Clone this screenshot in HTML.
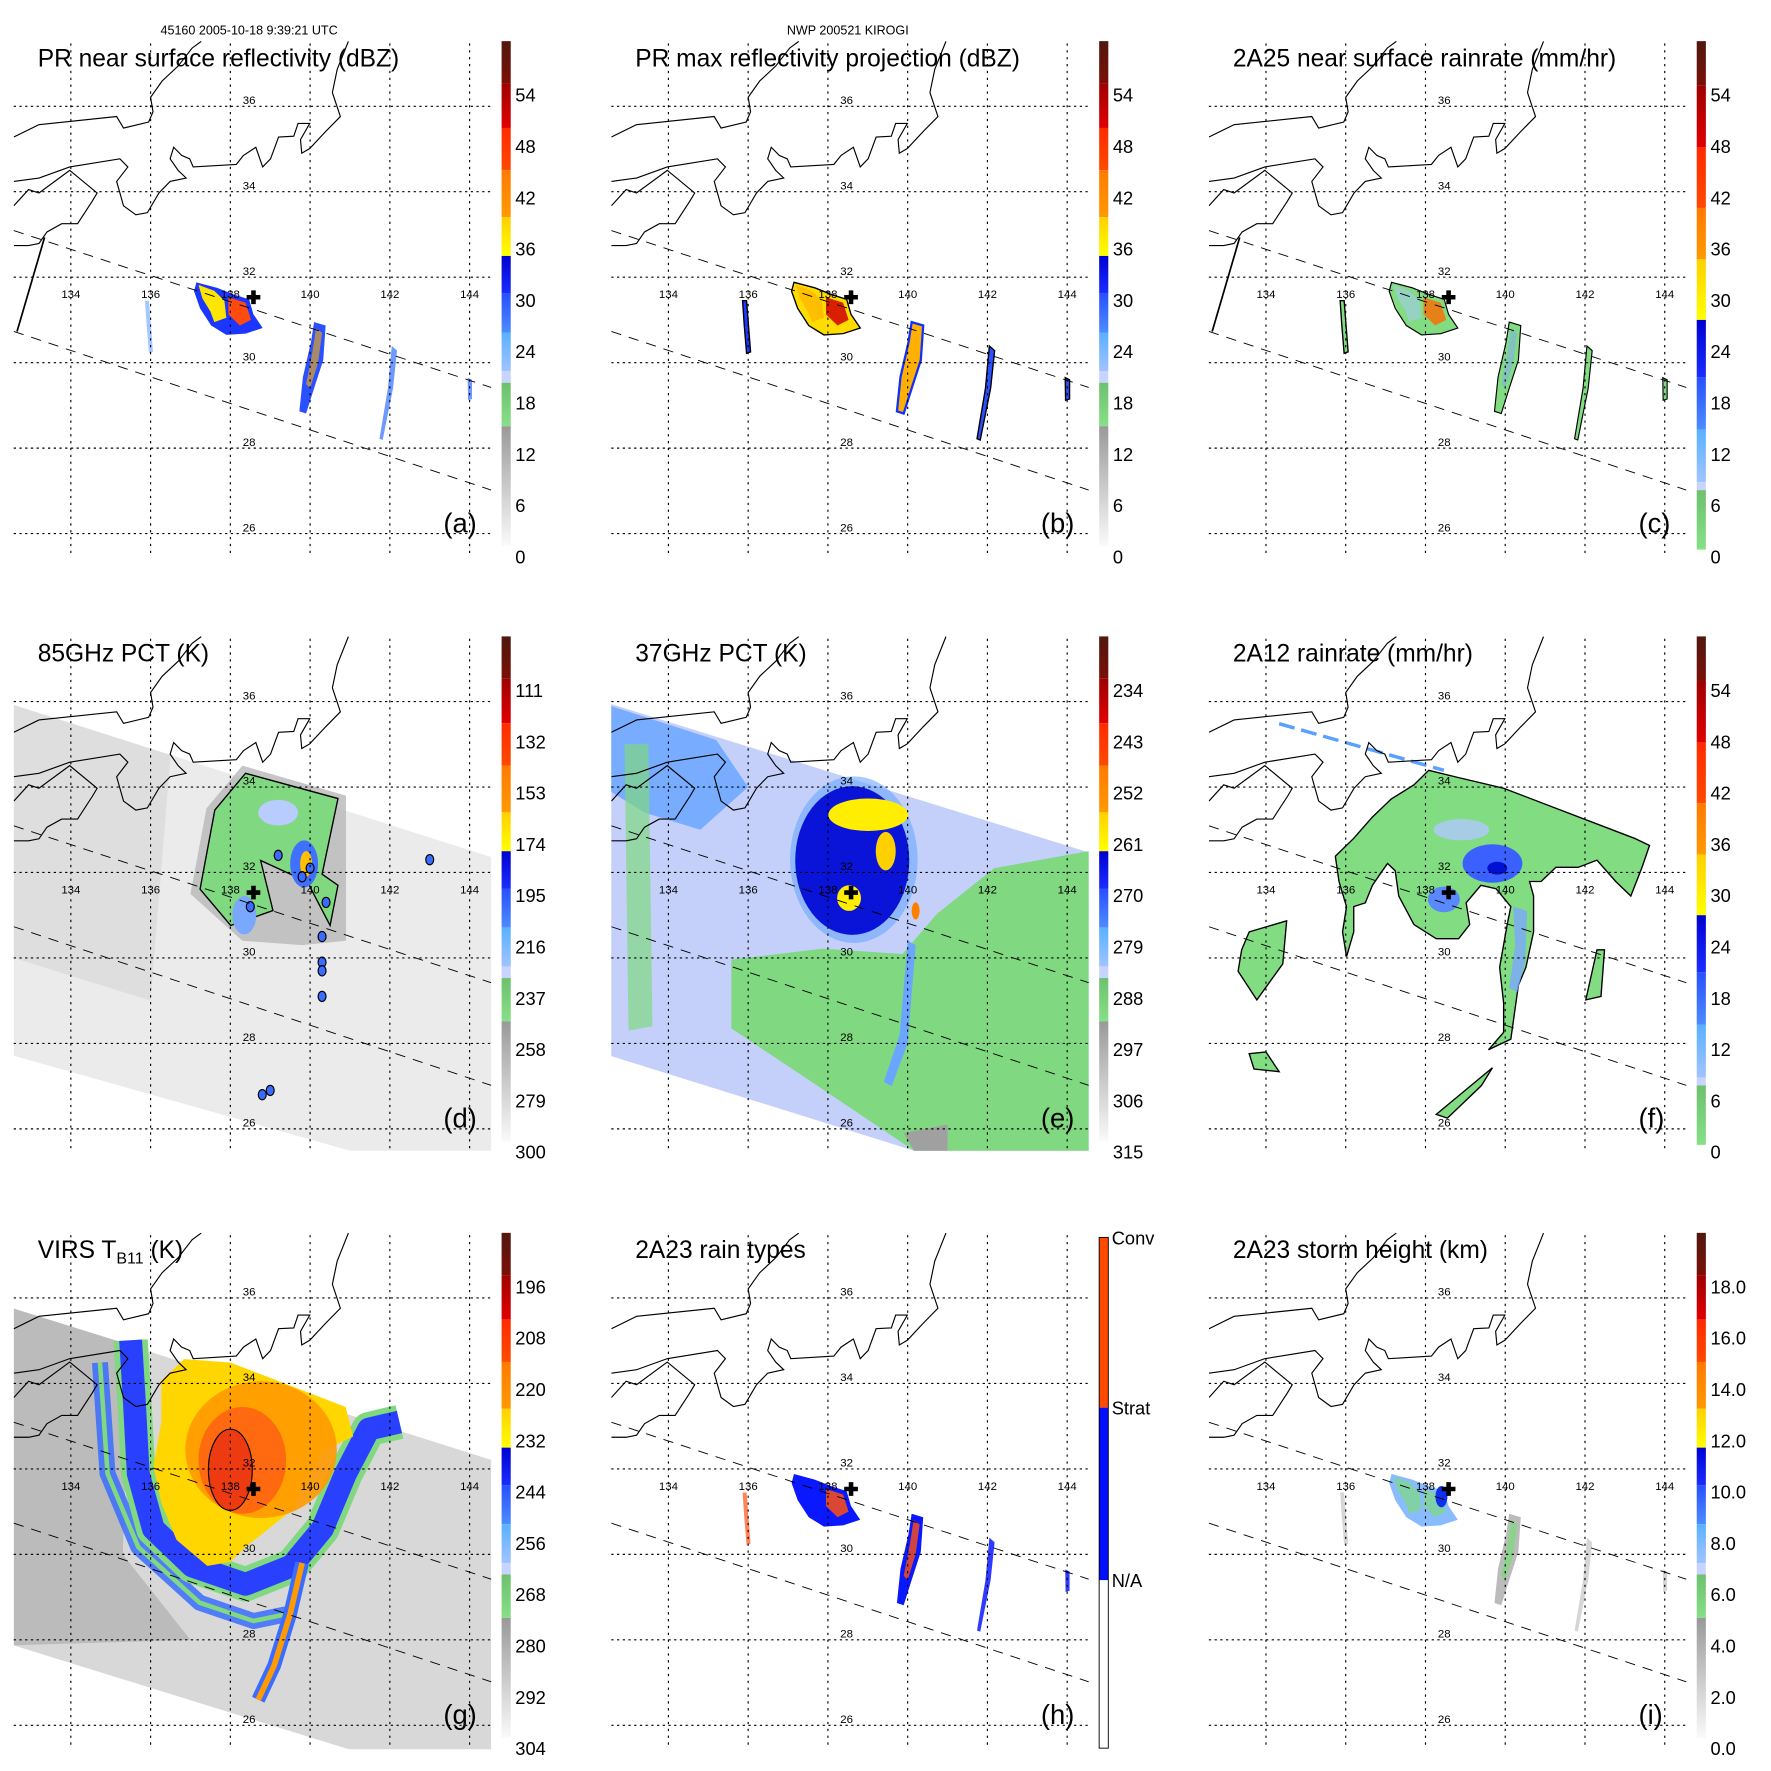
<!DOCTYPE html>
<html><head><meta charset="utf-8"><title>TRMM KIROGI overpass</title>
<style>
html,body{margin:0;padding:0;background:#fff;}
svg{display:block;font-family:"Liberation Sans",Arial,sans-serif;}
</style></head>
<body>
<svg id="fig" xmlns="http://www.w3.org/2000/svg" width="1771" height="1771" viewBox="0 0 1550 1550">
<rect x="0" y="0" width="1550" height="1550" fill="#fff"/>
<text x="218" y="30" font-size="11" text-anchor="middle">45160 2005-10-18 9:39:21 UTC</text>
<text x="742" y="30" font-size="11" text-anchor="middle">NWP 200521 KIROGI</text>
</svg>
<script>
const LON_TICKS=[134,136,138,140,142,144];
const LAT_TICKS=[26,28,30,32,34,36];
const COL_OFF=[0,523,1046];
const ROW_OFF=[0,521,1043];
const CB_LABELS_A=['54','48','42','36','30','24','18','12','6','0'];
const CB_LABELS_C=['54','48','42','36','30','24','18','12','6','0'];
const CB_LABELS_D=['111','132','153','174','195','216','237','258','279','300'];
const CB_LABELS_E=['234','243','252','261','270','279','288','297','306','315'];
const CB_LABELS_G=['196','208','220','232','244','256','268','280','292','304'];
const CB_LABELS_I=['18.0','16.0','14.0','12.0','10.0','8.0','6.0','4.0','2.0','0.0'];
const CB_LABELS_H=['Conv','Strat','N/A'];
const TITLES=['PR near surface reflectivity (dBZ)','PR max reflectivity projection (dBZ)','2A25 near surface rainrate (mm/hr)','85GHz PCT (K)','37GHz PCT (K)','2A12 rainrate (mm/hr)','VIRS','2A23 rain types','2A23 storm height (km)'];
const LETTERS=['(a)','(b)','(c)','(d)','(e)','(f)','(g)','(h)','(i)'];
const STORM_CENTER=[138.58,31.53];

const COAST1=[[132.57,35.28],[133.2,35.57],[135.15,35.76],[135.32,35.49],[135.95,35.63],[136.06,35.87],[136.0,36.21],[136.29,36.59],[136.69,36.94],[137.04,37.36],[137.27,37.52]];
const COAST2=[[140.96,37.52],[140.68,36.86],[140.56,36.32],[140.76,35.76],[140.39,35.41],[139.99,35.01],[139.79,34.90],[139.76,35.22],[139.99,35.60],[139.70,35.60],[139.59,35.30],[139.21,35.28],[139.01,34.77],[138.81,34.58],[138.64,35.04],[138.33,34.85],[138.15,34.64],[137.07,34.58],[136.98,34.77],[136.78,34.85],[136.58,35.04],[136.49,34.77],[136.69,34.50],[136.89,34.32],[136.49,34.24],[136.21,33.97],[135.92,33.51],[135.63,33.46],[135.32,33.67],[135.15,34.24],[135.43,34.58],[135.23,34.77],[133.97,34.58],[133.20,34.32],[132.57,34.24]];
const COAST3=[[132.57,33.67],[132.94,34.05],[133.2,33.97],[133.97,34.50],[134.66,33.97],[134.54,33.78],[134.17,33.25],[133.77,33.25],[133.40,33.06],[133.2,32.79],[132.94,32.74],[132.57,32.74]];
const SWATH_UP=[[132.57,33.09],[144.54,29.42]];
const SWATH_LO=[[132.57,30.73],[144.54,27.02]];
const SCAN_BAR=[[133.34,32.93],[132.65,30.73]];

const STORM=[[137.15,31.88],[137.67,31.75],[138.10,31.59],[138.47,31.48],[138.58,31.13],[138.81,30.81],[138.38,30.68],[137.90,30.65],[137.52,30.87],[137.24,31.27],[137.09,31.67]];
const STORM_BAND=[[137.2,31.82],[137.6,31.68],[137.85,31.45],[137.9,31.05],[137.6,30.95],[137.5,31.2],[137.3,31.5]];
const CORE=[[137.95,31.53],[138.38,31.40],[138.52,31.00],[138.24,30.87],[137.95,31.13]];
const STRIP140=[[140.10,30.95],[140.39,30.87],[140.33,30.06],[140.10,29.40],[139.90,28.81],[139.73,28.86],[139.82,29.66],[140.02,30.47]];
const STRIP140_IN=[[140.15,30.8],[140.3,30.7],[140.2,30.0],[140.0,29.4],[139.9,29.5],[140.05,30.2]];
const STRIP142=[[142.05,30.39],[142.18,30.28],[142.08,29.40],[141.82,28.19],[141.74,28.22],[141.95,29.40]];
const STRIP144=[[143.95,29.65],[144.06,29.6],[144.06,29.15],[143.96,29.12]];
const STRIP136=[[135.86,31.45],[135.96,31.45],[136.06,30.25],[135.96,30.22],[135.9,30.9]];

const SWATH_D=[[132.57,35.92],[144.54,32.36],[144.54,25.49],[141.0,25.49],[132.57,27.71]];
const SWATH_E=[[132.54,35.95],[144.54,32.47],[144.54,25.49],[140.16,25.49],[132.54,27.71]];
const SWATH_G=[[132.57,35.75],[144.54,32.21],[144.54,25.43],[141.0,25.43],[132.57,27.87]];
const D_GREEN=[[138.38,34.32],[140.70,33.73],[140.30,31.96],[140.70,31.70],[140.50,30.76],[139.93,31.78],[138.76,32.28],[139.07,31.11],[138.01,30.76],[137.24,31.61],[137.61,33.46]];
const D_SHADOW=[[138.3,34.5],[140.9,33.8],[140.9,30.4],[139.8,30.3],[138.3,30.4],[137.0,31.5],[137.4,33.5]];
const D_CELLS=[[139.2,32.4],[140.0,32.1],[139.8,31.9],[138.5,31.2],[140.4,31.3],[140.3,30.5],[140.3,29.9],[140.3,29.7],[140.3,29.1],[138.8,26.8],[139.0,26.9],[143.0,32.3]];
const E_GREEN=[[135.58,29.96],[137.87,30.22],[139.87,30.09],[140.73,31.03],[142.17,32.10],[144.54,32.50],[144.54,25.49],[140.16,25.49],[137.30,27.28],[135.58,28.35]];
const E_GREEN_STRIP=[[132.9,35.0],[133.5,35.0],[133.6,28.4],[133.0,28.3]];
const E_MIDBLUE=[[132.54,35.9],[135.2,35.1],[136.0,34.0],[134.8,33.0],[133.4,33.4],[132.54,33.9]];
const E_TAIL=[[140.0,30.4],[140.2,30.3],[140.0,28.0],[139.6,27.0],[139.4,27.1],[139.8,28.2]];
const E_GREY=[[139.9,25.9],[141.0,26.1],[141.0,25.49],[140.16,25.49]];
const F_GREEN=[[138.08,34.39],[138.83,34.22],[139.96,33.97],[143.24,32.80],[143.62,32.63],[143.43,32.12],[143.15,31.45],[142.77,31.79],[142.30,32.29],[141.83,32.12],[141.27,32.12],[140.90,31.79],[140.61,31.79],[140.71,31.45],[140.71,30.61],[140.52,29.78],[140.33,29.36],[140.14,28.10],[139.58,27.85],[139.96,28.26],[139.96,28.94],[139.86,29.78],[140.05,30.78],[140.14,31.20],[139.77,31.62],[139.39,31.70],[139.02,31.29],[139.11,30.78],[138.83,30.45],[138.27,30.45],[137.71,30.78],[137.33,31.45],[137.24,32.04],[137.05,32.21],[136.86,31.96],[136.67,31.70],[136.49,31.29],[136.20,31.20],[136.20,30.61],[136.02,30.03],[135.92,30.61],[136.02,31.20],[135.83,31.79],[135.74,32.38],[136.20,32.80],[136.67,33.30],[137.14,33.72],[137.71,34.05]];
const F_GREEN_W=[[133.58,30.61],[134.52,30.87],[134.42,29.86],[133.77,29.02],[133.30,29.69],[133.39,30.19]];
const F_GREEN_S=[[138.27,26.34],[139.68,27.43],[139.40,27.01],[138.55,26.25]];
const F_GREEN_SW=[[133.58,27.76],[134.0,27.8],[134.33,27.34],[133.7,27.4]];
const F_GREEN_E=[[142.30,30.19],[142.49,30.19],[142.40,29.10],[142.02,29.02]];
const F_BLUE_ARM=[[140.2,31.2],[140.55,31.1],[140.5,29.9],[140.3,29.2],[140.1,29.3],[140.25,30.3]];
const F_DASH=[[134.33,35.48],[138.46,34.39]];
const G_CLOUD=[[136.84,34.57],[138.0,34.49],[140.89,33.45],[141.08,32.76],[140.31,32.41],[139.92,31.72],[139.54,31.03],[138.96,30.60],[138.38,30.17],[138.0,29.82],[137.42,29.73],[136.65,30.34],[136.27,31.20],[136.07,32.07],[136.27,33.10],[136.27,34.06]];
const G_BAND1=[[135.50,35.01],[135.59,33.62],[135.69,31.89],[136.07,30.60],[137.04,29.73],[138.38,29.30],[139.54,29.73],[140.31,30.60],[140.89,31.89],[141.47,32.93],[142.24,33.10]];
const G_BAND2=[[134.73,34.49],[134.92,31.89],[135.69,30.17],[137.23,28.87],[138.58,28.44],[139.4,28.6]];
const G_TAIL=[[139.8,29.8],[139.5,28.6],[139.1,27.4],[138.7,26.6]];
const G_DARKLEFT=[[132.57,35.75],[135.5,34.9],[135.3,30.0],[137.0,28.0],[132.57,27.87]];

const svg=document.getElementById('fig');
const NS='http://www.w3.org/2000/svg';
function mk(tag,attrs,parent){const e=document.createElementNS(NS,tag);for(const k in attrs)e.setAttribute(k,attrs[k]);(parent||svg).appendChild(e);return e;}
function px(ox,lon){return ox+62+(lon-134)*34.9;}
function py(oy,lat){return oy+93+(36-lat)*37.4;}
function ptsStr(ox,oy,arr){return arr.map(p=>px(ox,p[0]).toFixed(1)+','+py(oy,p[1]).toFixed(1)).join(' ');}

function poly(g,ox,oy,arr,fill,name,extra){
  const e=mk('polygon',Object.assign({points:ptsStr(ox,oy,arr),fill:fill},extra||{}),g);
  
  
  return e;
}
function line(g,ox,oy,arr,stroke,name,extra){
  const e=mk('polyline',Object.assign({points:ptsStr(ox,oy,arr),fill:'none',stroke:stroke},extra||{}),g);
  
  
  return e;
}
function ell(g,ox,oy,c,rlon,rlat,fill,name,extra){
  const e=mk('ellipse',Object.assign({cx:px(ox,c[0]),cy:py(oy,c[1]),rx:rlon*34.9,ry:rlat*37.4,fill:fill},extra||{}),g);
  
  
  return e;
}

const CB_A=[[36,73,'#50180f','#7a1008'],[73,112,'#a00000','#e00000'],[112,149,'#ff2a00','#ff4a00'],[149,190,'#ff7a00','#ff9900'],[190,224,'#ffd000','#ffff00'],[224,257,'#0000d0','#1a2eff'],[257,291,'#2850ff','#4d8cff'],[291,325,'#5ab0ff','#a0c4ff'],[325,335,'#c8d4ff','#c8d4ff'],[335,373,'#6ec06e','#86e086'],[373,478,'#999999','#fafafa']];
const CB_C=[[36,75,'#50180f','#7a1008'],[75,129,'#a00000','#e00000'],[129,182,'#ff2a00','#ff4a00'],[182,227,'#ff7a00','#ff9900'],[227,280,'#ffd000','#ffff00'],[280,330,'#0000d0','#1a2eff'],[330,376,'#2850ff','#4d8cff'],[376,422,'#5ab0ff','#a0c4ff'],[422,429,'#c8d4ff','#c8d4ff'],[429,481,'#6ec06e','#86e086']];
const CB_H=[[40,189,'#ff4a00','#ff4a00'],[189,340,'#0010ff','#0010ff'],[340,487,'#ffffff','#ffffff']];
let gradId=0;
function colorbar(ox,oy,bands,labels,kind){
  const g=mk('g',{});
  
  
  bands.forEach(b=>{
    const id='gr'+(gradId++);
    const lg=mk('linearGradient',{id:id,x1:0,y1:0,x2:0,y2:1},g);
    mk('stop',{offset:0,'stop-color':b[2]},lg);mk('stop',{offset:1,'stop-color':b[3]},lg);
    const r=mk('rect',{x:ox+439,y:oy+b[0],width:8,height:b[1]-b[0],fill:'url(#'+id+')'},g);
    
    
  });
  if(kind==='h'){
    mk('rect',{x:ox+439,y:oy+40,width:8,height:447,fill:'none',stroke:'#000','stroke-width':0.8},g);
    const ys=[40,189,340];
    labels.forEach((t,i)=>{const e=mk('text',{x:ox+450,y:oy+ys[i]+6,'font-size':16},g);e.textContent=t;
      
      });
  } else {
    labels.forEach((t,i)=>{const y=oy+83+44.9*i;const e=mk('text',{x:ox+451,y:y+6,'font-size':16},g);e.textContent=t;
      
      });
  }
}

function cross(g,ox,oy,c){
  const x=px(ox,c[0]),y=py(oy,c[1]);
  const e=mk('path',{d:`M${x-6},${y-2}h4v-4h4v4h4v4h-4v4h-4v-4h-4z`,fill:'#000'},g);
  
  
}

function prFeatures(g,ox,oy,k){
  if(k==='a'){
    poly(g,ox,oy,STRIP136,'#7ab0ff','rain-cell-136',{opacity:0.7});
    poly(g,ox,oy,STORM,'#1a36ff','rain-storm-core');
    poly(g,ox,oy,STORM_BAND,'#ffe600','rain-band-yellow');
    poly(g,ox,oy,CORE,'#ff4a10','rain-core-red');
    poly(g,ox,oy,STRIP140,'#2a50ff','rain-strip-140');
    poly(g,ox,oy,STRIP140_IN,'#ffb000','rain-strip-140-core',{opacity:0.6});
    poly(g,ox,oy,STRIP142,'#4a80ff','rain-strip-142',{opacity:0.8});
    poly(g,ox,oy,STRIP144,'#4a80ff','rain-strip-144',{opacity:0.8});
  } else if(k==='b'){
    poly(g,ox,oy,STRIP136,'#203aff','rain-cell-136',{stroke:'#000','stroke-width':1.2});
    poly(g,ox,oy,STORM,'#ffdc00','rain-storm-core',{stroke:'#000','stroke-width':1.2});
    poly(g,ox,oy,STORM_BAND,'#ffb000','rain-band-orange',{opacity:0.7});
    poly(g,ox,oy,CORE,'#d82000','rain-core-red');
    poly(g,ox,oy,STRIP140,'#ffb000','rain-strip-140',{stroke:'#1030ff','stroke-width':2});
    poly(g,ox,oy,STRIP142,'#2a50ff','rain-strip-142',{stroke:'#000','stroke-width':1.2});
    poly(g,ox,oy,STRIP144,'#2a50ff','rain-strip-144',{stroke:'#000','stroke-width':1.2});
  } else if(k==='c'){
    poly(g,ox,oy,STRIP136,'#80dc80','rain-cell-136',{stroke:'#000','stroke-width':1.2});
    poly(g,ox,oy,STORM,'#82dc82','rain-storm-core',{stroke:'#000','stroke-width':1});
    poly(g,ox,oy,STORM_BAND,'#a8c8ff','rain-band-light',{opacity:0.5});
    poly(g,ox,oy,CORE,'#ff6a00','rain-core-orange',{opacity:0.8});
    poly(g,ox,oy,STRIP140,'#82dc82','rain-strip-140',{stroke:'#000','stroke-width':1});
    poly(g,ox,oy,STRIP140_IN,'#80a8ff','rain-strip-140-core',{opacity:0.5});
    poly(g,ox,oy,STRIP142,'#82dc82','rain-strip-142',{stroke:'#000','stroke-width':1});
    poly(g,ox,oy,STRIP144,'#82dc82','rain-strip-144',{stroke:'#000','stroke-width':1});
  } else if(k==='h'){
    poly(g,ox,oy,STRIP136,'#ff5010','rain-cell-136',{opacity:0.7});
    poly(g,ox,oy,STORM,'#0a18ff','rain-storm-core');
    poly(g,ox,oy,CORE,'#ff5010','rain-core-conv',{opacity:0.85});
    poly(g,ox,oy,STRIP140,'#0a18ff','rain-strip-140');
    poly(g,ox,oy,STRIP140_IN,'#ff5010','rain-strip-140-conv',{opacity:0.8});
    poly(g,ox,oy,STRIP142,'#0a18ff','rain-strip-142',{opacity:0.85});
    poly(g,ox,oy,STRIP144,'#0a18ff','rain-strip-144',{opacity:0.85});
  } else if(k==='i'){
    poly(g,ox,oy,STRIP136,'#cccccc','rain-cell-136',{opacity:0.8});
    poly(g,ox,oy,STORM,'#88bcff','rain-storm-core');
    poly(g,ox,oy,STORM_BAND,'#80d880','rain-band-green',{opacity:0.7});
    poly(g,ox,oy,CORE,'#80d880','rain-core-green',{opacity:0.7});
    ell(g,ox,oy,[138.4,31.35],0.15,0.25,'#1030ee','rain-core-blue');
    poly(g,ox,oy,STRIP140,'#bbbbbb','rain-strip-140');
    poly(g,ox,oy,STRIP140_IN,'#80d880','rain-strip-140-green',{opacity:0.8});
    poly(g,ox,oy,STRIP142,'#cccccc','rain-strip-142',{opacity:0.8});
    poly(g,ox,oy,STRIP144,'#cccccc','rain-strip-144',{opacity:0.8});
  }
}

function dFeatures(g,ox,oy){
  poly(g,ox,oy,SWATH_D,'#ebebeb','pct85-swath');
  poly(g,ox,oy,[[132.57,35.92],[136.5,34.75],[136.0,29.0],[132.57,30.0]],'#dedede','pct85-swath-left');
  poly(g,ox,oy,D_SHADOW,'#b8b8b8','pct85-shadow',{opacity:0.8});
  poly(g,ox,oy,D_GREEN,'#80d880','pct85-green',{stroke:'#000','stroke-width':1.2});
  ell(g,ox,oy,[139.2,33.4],0.5,0.3,'#b8ccff','pct85-light-blue');
  ell(g,ox,oy,[139.85,32.2],0.35,0.55,'#4070ff','pct85-blue-cell');
  ell(g,ox,oy,[139.9,32.2],0.15,0.3,'#ffc000','pct85-yellow-cell');
  ell(g,ox,oy,[138.35,31.0],0.3,0.45,'#7aa8ff','pct85-core-blue');
  D_CELLS.forEach((c,i)=>{ell(g,ox,oy,c,0.1,0.12,'#3a6cff','pct85-cell',{stroke:'#000','stroke-width':1});});
}
function eFeatures(g,ox,oy){
  poly(g,ox,oy,SWATH_E,'#c4d0fa','pct37-swath');
  poly(g,ox,oy,E_MIDBLUE,'#6aa6ff','pct37-midblue',{opacity:0.85});
  poly(g,ox,oy,E_GREEN_STRIP,'#80d880','pct37-green-strip',{opacity:0.7});
  poly(g,ox,oy,E_GREEN,'#80d880','pct37-green');
  ell(g,ox,oy,[138.65,32.3],1.6,1.95,'#6aa6ff','pct37-ring',{opacity:0.6});
  ell(g,ox,oy,[138.61,32.28],1.43,1.74,'#0a14d8','pct37-eye-region');
  poly(g,ox,oy,E_TAIL,'#6aa6ff','pct37-tail');
  poly(g,ox,oy,E_GREY,'#a0a0a0','pct37-grey');
  ell(g,ox,oy,[139.01,33.35],1.0,0.38,'#ffee00','pct37-yellow-north');
  ell(g,ox,oy,[139.45,32.5],0.25,0.45,'#ffd000','pct37-yellow-east');
  ell(g,ox,oy,[138.53,31.4],0.3,0.3,'#ffee00','pct37-yellow-center');
  ell(g,ox,oy,[140.2,31.1],0.1,0.2,'#ff8000','pct37-orange-cell');
}
function fFeatures(g,ox,oy){
  line(g,ox,oy,F_DASH,'#5aa0ff','rain-light-streak',{'stroke-width':3,'stroke-dasharray':'14,6'});
  poly(g,ox,oy,F_GREEN,'#82dc82','rain-green',{stroke:'#000','stroke-width':1.2});
  poly(g,ox,oy,F_GREEN_W,'#82dc82','rain-green-west',{stroke:'#000','stroke-width':1.2});
  poly(g,ox,oy,F_GREEN_S,'#82dc82','rain-green-south',{stroke:'#000','stroke-width':1.2});
  poly(g,ox,oy,F_GREEN_SW,'#82dc82','rain-green-sw',{stroke:'#000','stroke-width':1.2});
  poly(g,ox,oy,F_GREEN_E,'#82dc82','rain-green-east',{stroke:'#000','stroke-width':1.2});
  ell(g,ox,oy,[138.9,33.0],0.7,0.25,'#b0c8ff','rain-light-patch',{opacity:0.8});
  ell(g,ox,oy,[139.68,32.21],0.75,0.45,'#3a60ff','rain-blue-core');
  ell(g,ox,oy,[139.8,32.1],0.25,0.15,'#0010d0','rain-dark-core');
  ell(g,ox,oy,[138.46,31.37],0.4,0.3,'#5a88ff','rain-blue-center');
  poly(g,ox,oy,F_BLUE_ARM,'#7aa8ff','rain-blue-arm',{opacity:0.8});
}
function gFeatures(g,ox,oy){
  poly(g,ox,oy,SWATH_G,'#d8d8d8','virs-swath');
  poly(g,ox,oy,G_DARKLEFT,'#b4b4b4','virs-dark-left',{opacity:0.8});
  line(g,ox,oy,G_BAND2,'#3a6cff','virs-outer-band',{'stroke-width':14,'stroke-linejoin':'round',opacity:0.85});
  line(g,ox,oy,G_BAND2,'#80d880','virs-outer-band-edge',{'stroke-width':4,'stroke-linejoin':'round'});
  line(g,ox,oy,G_BAND1,'#80d880','virs-band-edge',{'stroke-width':30,'stroke-linejoin':'round'});
  line(g,ox,oy,G_BAND1,'#2a40ff','virs-band',{'stroke-width':20,'stroke-linejoin':'round'});
  line(g,ox,oy,G_TAIL,'#3a6cff','virs-tail-band',{'stroke-width':12,'stroke-linejoin':'round'});
  line(g,ox,oy,G_TAIL,'#ff9a00','virs-tail-core',{'stroke-width':5,'stroke-linejoin':'round'});
  poly(g,ox,oy,G_CLOUD,'#ffd600','virs-cloud-top');
  ell(g,ox,oy,[138.77,32.45],1.9,1.6,'#ff9a00','virs-orange',{opacity:0.9});
  ell(g,ox,oy,[138.3,32.2],1.1,1.25,'#ff6a10','virs-red-orange');
  ell(g,ox,oy,[138.0,31.98],0.55,0.95,'#ee3a10','virs-core',{stroke:'#000','stroke-width':1});
}

const KEYS=['a','b','c','d','e','f','g','h','i'];
KEYS.forEach((k,idx)=>{
  const ox=COL_OFF[idx%3], oy=ROW_OFF[Math.floor(idx/3)];
  const panel=mk('g',{});
  
  
  const cid='clip'+k;
  const cp=mk('clipPath',{id:cid},panel);
  mk('rect',{x:ox+12,y:oy+36,width:420,height:452},cp);
  const map=mk('g',{'clip-path':'url(#'+cid+')'},panel);
  
  
  if('abchi'.includes(k)) prFeatures(map,ox,oy,k);
  if(k==='d') dFeatures(map,ox,oy);
  if(k==='e') eFeatures(map,ox,oy);
  if(k==='f') fFeatures(map,ox,oy);
  if(k==='g') gFeatures(map,ox,oy);
  LON_TICKS.forEach(lon=>{const x=px(ox,lon);const e=mk('line',{x1:x,y1:oy+38,x2:x,y2:oy+486,stroke:'#000','stroke-width':1,'stroke-dasharray':'2,4'},panel);
    
    });
  LAT_TICKS.forEach(lat=>{const y=py(oy,lat);const e=mk('line',{x1:ox+12,y1:y,x2:ox+432,y2:y,stroke:'#000','stroke-width':1,'stroke-dasharray':'2,3'},panel);
    
    
    const t=mk('text',{x:ox+218,y:y-2,'font-size':10,'text-anchor':'middle'},panel);t.textContent=lat;
    
    });
  LON_TICKS.forEach(lon=>{const t=mk('text',{x:px(ox,lon),y:oy+261,'font-size':10,'text-anchor':'middle'},panel);t.textContent=lon;
    
    });
  [COAST1,COAST2,COAST3].forEach(c=>line(map,ox,oy,c,'#000','coastline',{'stroke-width':1}));
  line(panel,ox,oy,SWATH_UP,'#000','swath-edge-upper',{'stroke-width':0.8,'stroke-dasharray':'9,7'});
  line(panel,ox,oy,SWATH_LO,'#000','swath-edge-lower',{'stroke-width':0.8,'stroke-dasharray':'9,7'});
  if(k==='a'||k==='c') line(panel,ox,oy,SCAN_BAR,'#000','scan-width-bar',{'stroke-width':1.5});
  cross(panel,ox,oy,STORM_CENTER);
  const tt=mk('text',{x:ox+33,y:oy+58,'font-size':21.5},panel);
  
  
  if(k==='g'){
    tt.textContent='VIRS T';
    const s=mk('tspan',{'font-size':14,dy:5},tt);s.textContent='B11';
    const s2=mk('tspan',{dy:-5},tt);s2.textContent=' (K)';
  } else tt.textContent=TITLES[idx];
  const lt=mk('text',{x:ox+388,y:oy+466,'font-size':24},panel);lt.textContent=LETTERS[idx];
  
  
  if(k==='a'||k==='b') colorbar(ox,oy,CB_A,CB_LABELS_A,'a');
  if(k==='c'||k==='f') colorbar(ox,oy,CB_C,CB_LABELS_C,'c');
  if(k==='d') colorbar(ox,oy,CB_A,CB_LABELS_D,'a');
  if(k==='e') colorbar(ox,oy,CB_A,CB_LABELS_E,'a');
  if(k==='g') colorbar(ox,oy,CB_A,CB_LABELS_G,'a');
  if(k==='h') colorbar(ox,oy,CB_H,CB_LABELS_H,'h');
  if(k==='i') colorbar(ox,oy,CB_A,CB_LABELS_I,'a');
});
</script>
</body></html>
